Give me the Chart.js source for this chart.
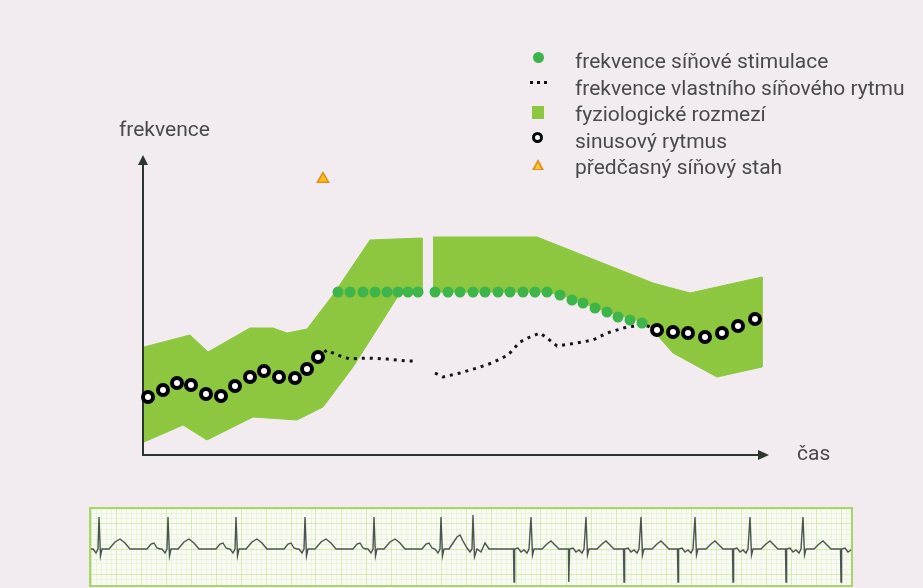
<!DOCTYPE html>
<html lang="cs">
<head>
<meta charset="utf-8">
<title>Frekvence síňové stimulace</title>
<script src="https://cdn.jsdelivr.net/npm/chart.js@4.4.1/dist/chart.umd.min.js"></script>
<style>
  html, body { margin: 0; padding: 0; background: #f2ebef; }
  #wrap { position: relative; width: 923px; height: 588px; overflow: hidden;
          font-family: Roboto, "Liberation Sans", sans-serif; color: #4a4a4a; }
  #main { position: absolute; left: 0; top: 0; }
  #ecgBox { position: absolute; left: 89px; top: 507px; width: 760px; height: 76px;
            border: 2px solid #a8d46e; background: #f8faf3; }
  .lbl { position: absolute; font-size: 21px; line-height: 1; white-space: nowrap; }
  .mk { position: absolute; }
</style>
</head>
<body>
<div id="wrap">
  <canvas id="main" width="923" height="588"></canvas>
  <div id="ecgBox"><canvas id="ecg" width="760" height="76"></canvas></div>

  <div class="lbl" style="left:119px; top:119px;">frekvence</div>
  <div class="lbl" style="left:797px; top:443px;">čas</div>

  <!-- legend -->
  <div class="mk" style="left:533px; top:52px; width:11px; height:11px; border-radius:50%; background:#3db54a;"></div>
  <div class="mk" style="left:530px; top:81px; width:3px; height:3px; background:#111;"></div>
  <div class="mk" style="left:537px; top:81px; width:3px; height:3px; background:#111;"></div>
  <div class="mk" style="left:544px; top:81px; width:3px; height:3px; background:#111;"></div>
  <div class="mk" style="left:532px; top:106px; width:12px; height:13px; background:#8dc63f;"></div>
  <div class="mk" style="left:532px; top:132px; width:5px; height:5px; border:3.5px solid #000; border-radius:50%; background:#fff;"></div>
  <div class="mk" style="left:532px; top:159px; width:0; height:0; border-left:6px solid transparent; border-right:6px solid transparent; border-bottom:11px solid #e8901e;"></div>
  <div class="mk" style="left:535px; top:163px; width:0; height:0; border-left:3px solid transparent; border-right:3px solid transparent; border-bottom:6px solid #f7cf2a;"></div>

  <div class="lbl" style="left:575px; top:51px;">frekvence síňové stimulace</div>
  <div class="lbl" style="left:575px; top:78px;">frekvence vlastního síňového rytmu</div>
  <div class="lbl" style="left:575px; top:104px;">fyziologické rozmezí</div>
  <div class="lbl" style="left:575px; top:131px;">sinusový rytmus</div>
  <div class="lbl" style="left:575px; top:157px;">předčasný síňový stah</div>
</div>

<script>
// time runs 0..626, frequency 0..300 (arbitrary units)
const bandLeftUpper = [[1,108],[47,120],[65,103],[107,127],[130,127],[144,122],[164,126],[190,160],[227,215],[279,217]];
const bandLeftLower = [[1,13],[40,30],[64,15],[110,38],[154,35],[180,48],[210,88],[257,162],[279,163]];
const bandRightUpper = [[290,218],[394,218],[510,172],[547,162],[619,178]];
const bandRightLower = [[290,163],[404,163],[427,157],[464,143],[504,132],[507,128],[530,102],[574,78],[619,88]];

const stimTime = [195,207,220,232,244,255,265,275, 292,305,317,330,342,355,367,380,392,404,417,429,440,452,464,475,487,499];
const stimFreq = [163,163,163,163,163,163,163,163, 163,163,163,163,163,163,163,163,163,163,160,155,152,147,143,138,135,132];

const ownLeft = [[175,98],[184,105],[194,100],[207,96],[224,97],[244,96],[264,94],[274,94]];
const ownRight = [[292,82],[300,78],[317,82],[334,87],[349,92],[365,100],[377,113],[387,118],[397,122],[404,117],[414,109],[434,112],[450,115],[464,122],[484,128],[502,130],[514,125]];

const sinusTime = [5,20,34,48,63,78,92,107,121,136,152,164,175, 514,530,545,562,579,595,612];
const sinusFreq = [58,65,72,70,61,59,69,78,84,78,77,86,98, 125,123,122,118,122,129,136];

const prematureBeat = [[180,276]];

// ECG strip (x: 0..760, y: baseline 0)
const sinusR = [8, 77, 145, 214, 283];
const sinusBeat = [[-6,0],[-3,-4],[-1,0],[0,32],[1.5,-7],[3,0],[10,0],[16,7],[21,10],[26,6],[31,0],[48,0],[52,5],[55,6],[58,1],[61,0]];
const prematureRun = [[344,0],[347,-4],[349,0],[350,32],[351.5,-7],[353,0],[358,0],[362,6],[366,12],[369,14],[372,8],[376,1],[379,-3],[381,0],[382,34],[383.5,-8],[386,0],[390,-3],[394,6],[398,0],[422,0]];
const pacedSpike = [423, 478, 533, 587, 642, 695, 750];
const pacedBeat = [[-0.5,0],[0,-33],[0.6,0],[4,1],[7,-3],[10,-1],[13,-4],[15,0],[17,32],[18.5,-6],[20,0],[28,0],[33,5],[37,8],[41,4],[45,0],[54.5,0]];

const pts = (arr) => arr.map(([x, y]) => ({ x, y }));
const shape = (upper, lower) => pts(upper.concat(lower.slice().reverse()));

let ecgPoints = [{ x: 0, y: 0 }];
sinusR.forEach(r => sinusBeat.forEach(([dx, dy]) => ecgPoints.push({ x: r + dx, y: dy })));
ecgPoints = ecgPoints.concat(pts(prematureRun));
pacedSpike.forEach(s => pacedBeat.forEach(([dx, dy]) => ecgPoints.push({ x: s + dx, y: dy })));

const bandColor = '#8dc63f';

// axes with arrow heads
const axisArrows = {
  id: 'axisArrows',
  beforeDatasetsDraw(chart) {
    const { ctx, chartArea: a } = chart;
    ctx.save();
    ctx.strokeStyle = '#2c3631';
    ctx.fillStyle = '#2c3631';
    ctx.lineWidth = 2;
    ctx.beginPath();
    ctx.moveTo(a.left, a.top + 8);
    ctx.lineTo(a.left, a.bottom);
    ctx.lineTo(a.right - 8, a.bottom);
    ctx.stroke();
    ctx.beginPath();
    ctx.moveTo(a.left, a.top);
    ctx.lineTo(a.left - 5, a.top + 10);
    ctx.lineTo(a.left + 5, a.top + 10);
    ctx.closePath();
    ctx.fill();
    ctx.beginPath();
    ctx.moveTo(a.right, a.bottom);
    ctx.lineTo(a.right - 11, a.bottom - 5);
    ctx.lineTo(a.right - 11, a.bottom + 5);
    ctx.closePath();
    ctx.fill();
    ctx.restore();
  }
};

new Chart(document.getElementById('main'), {
  type: 'scatter',
  data: {
    datasets: [
      { label: 'fyziologické rozmezí', data: shape(bandLeftUpper, bandLeftLower), showLine: true, fill: 'shape',
        backgroundColor: bandColor, borderColor: bandColor, borderWidth: 1, pointRadius: 0, order: 6 },
      { label: 'fyziologické rozmezí', data: shape(bandRightUpper, bandRightLower), showLine: true, fill: 'shape',
        backgroundColor: bandColor, borderColor: bandColor, borderWidth: 1, pointRadius: 0, order: 6 },
      { label: 'frekvence vlastního síňového rytmu', data: pts(ownLeft), showLine: true, borderColor: '#151515',
        borderWidth: 3, borderDash: [3, 5], pointRadius: 0, order: 5 },
      { label: 'frekvence vlastního síňového rytmu', data: pts(ownRight), showLine: true, borderColor: '#151515',
        borderWidth: 3, borderDash: [3, 5], pointRadius: 0, order: 5 },
      { label: 'frekvence síňové stimulace', data: stimTime.map((t, i) => ({ x: t, y: stimFreq[i] })),
        pointRadius: 5.5, backgroundColor: '#3db54a', borderWidth: 0, order: 3 },
      { label: 'sinusový rytmus', data: sinusTime.map((t, i) => ({ x: t, y: sinusFreq[i] })),
        pointRadius: 5, borderWidth: 4, borderColor: '#000', backgroundColor: '#fff', order: 2 },
      { label: 'předčasný síňový stah', data: pts(prematureBeat), pointStyle: 'triangle', pointRadius: 6.5,
        backgroundColor: '#f5c21c', borderColor: '#e8891d', borderWidth: 1.5, order: 1 }
    ]
  },
  options: {
    responsive: false,
    animation: false,
    clip: false,
    layout: { padding: { left: 143, right: 154, top: 155, bottom: 133 } },
    scales: {
      x: { type: 'linear', min: 0, max: 626, display: false },
      y: { type: 'linear', min: 0, max: 300, display: false }
    },
    plugins: { legend: { display: false }, tooltip: { enabled: false } }
  },
  plugins: [axisArrows]
});

const paperGrid = (c) => (c.tick && c.tick.value % 25 === 0) ? 'rgba(185,222,130,0.55)' : 'rgba(205,232,170,0.3)';

new Chart(document.getElementById('ecg'), {
  type: 'line',
  data: {
    datasets: [{ data: ecgPoints, borderColor: '#4b5550', borderWidth: 1.4, pointRadius: 0, tension: 0 }]
  },
  options: {
    responsive: false,
    animation: false,
    layout: { padding: 0 },
    scales: {
      x: { type: 'linear', min: 0, max: 760, ticks: { display: false, stepSize: 5 },
           grid: { color: paperGrid, drawTicks: false, lineWidth: 1 }, border: { display: false } },
      y: { type: 'linear', min: -36, max: 40, ticks: { display: false, stepSize: 5 },
           grid: { color: paperGrid, drawTicks: false, lineWidth: 1 }, border: { display: false } }
    },
    plugins: { legend: { display: false }, tooltip: { enabled: false } }
  }
});
</script>
</body>
</html>
